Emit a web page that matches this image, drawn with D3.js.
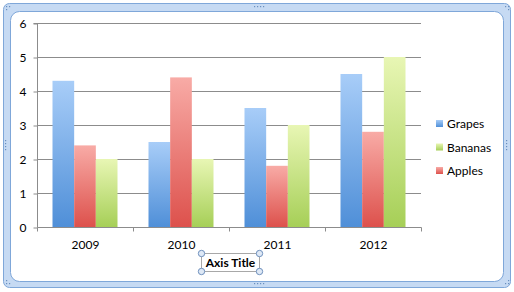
<!DOCTYPE html>
<html><head><meta charset="utf-8">
<script src="https://cdn.jsdelivr.net/npm/d3@7"></script>
<style>body{margin:0;background:#fff}svg{display:block}text{font-family:Lato,"Open Sans",sans-serif}</style>
</head><body><div id="c"></div>
<script>
const years = ["2009","2010","2011","2012"];
const seriesNames = ["Grapes","Apples","Bananas"];
const legendOrder = ["Grapes","Bananas","Apples"];
const grapes = [4.3,2.5,3.5,4.5];
const apples = [2.4,4.4,1.8,2.8];
const bananas = [2.0,2.0,3.0,5.0];
const yTicks = [0,1,2,3,4,5,6];
const axisTitle = "Axis Title";

const values = {Grapes:grapes, Apples:apples, Bananas:bananas};
const colors = {
  Grapes:["#a8cdf8","#4f8fd8"],
  Apples:["#f8aba6","#dd514c"],
  Bananas:["#e8f6b4","#a6cf57"]
};
const W=514,H=292;
const svg=d3.select("#c").append("svg").attr("width",W).attr("height",H);
const defs=svg.append("defs");
seriesNames.forEach(s=>{
  const g=defs.append("linearGradient").attr("id","g"+s).attr("x1",0).attr("y1",0).attr("x2",0).attr("y2",1);
  g.append("stop").attr("offset","0%").attr("stop-color",colors[s][0]);
  g.append("stop").attr("offset","100%").attr("stop-color",colors[s][1]);
});

// frame
svg.append("rect").attr("x",3.5).attr("y",3.5).attr("width",507).attr("height",284).attr("rx",6)
  .attr("fill","#c6daf3").attr("stroke","#7fa7d9");
svg.append("rect").attr("x",10.5).attr("y",11.5).attr("width",493).attr("height",270).attr("rx",9)
  .attr("fill","#fff").attr("stroke","#7fa7d9");
// frame handle dots
function dots(pts){pts.forEach(p=>svg.append("rect").attr("x",p[0]).attr("y",p[1]).attr("width",1.2).attr("height",1.2).attr("fill","#6a8fbf"));}
const hd=[];
for(let i=0;i<4;i++){hd.push([254+i*3,6]);hd.push([254+i*3,283]);hd.push([5,140+i*3]);hd.push([506,140+i*3]);}
hd.push([6,6],[9,6],[6,9],[505,6],[508,6],[508,9],[6,283],[9,283],[6,280],[505,283],[508,283],[508,280]);
dots(hd);

const x0=37,x1=421,yTop=23,yBot=227;
const x=d3.scaleBand().domain(years).range([x0,x1]);
const inner=d3.scaleBand().domain(seriesNames).range([0,65]);
const y=d3.scaleLinear().domain([0,6]).range([yBot,yTop]);

// gridlines
svg.append("g").selectAll("line").data(yTicks.filter(d=>d>0)).join("line")
  .attr("x1",x0).attr("x2",x1).attr("y1",d=>y(d)+0.5).attr("y2",d=>y(d)+0.5)
  .attr("stroke","#8c8c8c").attr("stroke-width",1);

// bars
const off=(x.bandwidth()-65)/2;
years.forEach((yr,i)=>{
  seriesNames.forEach(s=>{
    svg.append("rect").attr("x",x(yr)+off+inner(s)).attr("width",inner.bandwidth())
      .attr("y",y(values[s][i])).attr("height",yBot-y(values[s][i]))
      .attr("fill","url(#g"+s+")");
  });
});

// y axis
const ya=svg.append("g").attr("transform",`translate(${x0+0.5},0.5)`)
  .call(d3.axisLeft(y).tickValues(yTicks).tickSize(4).tickPadding(7).tickFormat(d3.format("d")));
ya.select(".domain").attr("stroke","#8c8c8c").attr("d",`M-4,${yTop}H0V${yBot}`);
ya.selectAll(".tick line").attr("stroke","#8c8c8c");
ya.selectAll("text").attr("font-size",12).attr("fill","#000");

// x axis
const xa=svg.append("g").attr("transform",`translate(0.5,${yBot+0.5})`)
  .call(d3.axisBottom(x).tickSize(0).tickPadding(13));
xa.select(".domain").attr("stroke","#8c8c8c").attr("d",`M${x0},0H${x1}`);
xa.selectAll("text").attr("font-size",12).attr("fill","#000");
xa.selectAll(".sep").data(d3.range(5)).join("line").attr("class","sep")
  .attr("x1",d=>x0+d*x.step()).attr("x2",d=>x0+d*x.step()).attr("y1",0).attr("y2",4).attr("stroke","#8c8c8c");

// axis title box
const bx=201,by=253,bw=58,bh=18;
svg.append("rect").attr("x",bx+0.5).attr("y",by+0.5).attr("width",bw).attr("height",bh).attr("fill","none").attr("stroke","#a8a8a8");
svg.append("text").attr("x",bx+bw/2+0.5).attr("y",by+14).attr("text-anchor","middle")
  .attr("font-size",12).attr("font-weight","bold").text(axisTitle);
[[bx,by],[bx+bw,by],[bx,by+bh],[bx+bw,by+bh]].forEach(p=>
  svg.append("circle").attr("cx",p[0]+0.5).attr("cy",p[1]+0.5).attr("r",3.2).attr("fill","#dfe9f6").attr("stroke","#6f90bd"));

// legend
const lg=svg.append("g");
legendOrder.forEach((s,i)=>{
  const ly=124+i*23.5;
  lg.append("rect").attr("x",436).attr("y",ly-4).attr("width",7).attr("height",7).attr("fill","url(#g"+s+")");
  lg.append("text").attr("x",447).attr("y",ly+4).attr("font-size",12).text(s);
});
</script></body></html>
